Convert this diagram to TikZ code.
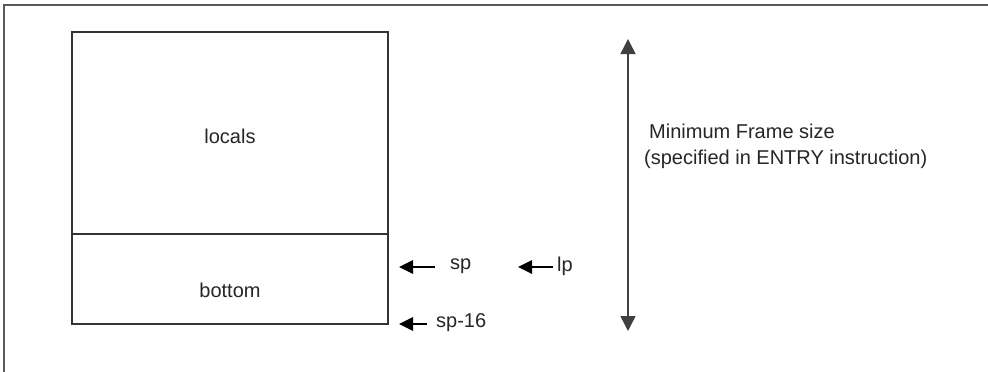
\documentclass[tikz,border=0pt]{standalone}
\usepackage{fontspec}
\setmainfont{Liberation Sans}
\usetikzlibrary{arrows.meta}
\begin{document}
\begin{tikzpicture}[x=1pt,y=-1pt,
  lbl/.style={font=\fontsize{20}{24}\selectfont, inner sep=0pt, text=black!85},
  boxline/.style={draw=black!80, line width=1.3pt},
  ptr/.style={-{Triangle[width=13.5pt,length=14pt]}, line width=1.3pt, draw=black},
  dbl/.style={{Triangle[width=15pt,length=15pt]}-{Triangle[width=15pt,length=15pt]}, line width=1.4pt, draw=black!75}]
\useasboundingbox (0,0) rectangle (988,372);
\fill[white] (0,0) rectangle (988,372);
% outer frame (top and left only)
\draw[draw=black!65, line width=2pt] (4,372) -- (4,5) -- (988,5);
% stack box
\coordinate (tl) at (72,32);
\coordinate (br) at (388,324);
\draw[boxline] (tl) rectangle (br);
\coordinate (dl) at (71,234);
\coordinate (dr) at (388,234);
\draw[boxline] (dl) -- (dr);
\node[lbl] (locals) at (230,136) {locals};
\node[lbl] (bottom) at (230,290) {bottom};
% pointers
\node[lbl, anchor=west] (sp) at (450,266) {sp};
\node[lbl, anchor=west] (lp) at (557,266) {lp};
\node[lbl, anchor=west] (sp16) at (436,323) {sp-16};
\coordinate (spt) at (399,267);
\coordinate (lpt) at (518,267);
\coordinate (sp16t) at (399,324);
\draw[ptr] ([xshift=-15pt]sp.west |- spt) -- (spt);
\draw[ptr] ([xshift=-4pt]lp.west |- lpt) -- (lpt);
\draw[ptr] ([xshift=-9pt]sp16.west |- sp16t) -- (sp16t);
% frame size
\coordinate (ftop) at (628,39);
\coordinate (fbot) at (628,331);
\draw[dbl] (ftop) -- (fbot);
\node[lbl, anchor=west] (min) at (649,131) {Minimum Frame size};
\node[lbl, anchor=west] (spec) at (644,159) {(specified in ENTRY instruction)};
\end{tikzpicture}
\end{document}
